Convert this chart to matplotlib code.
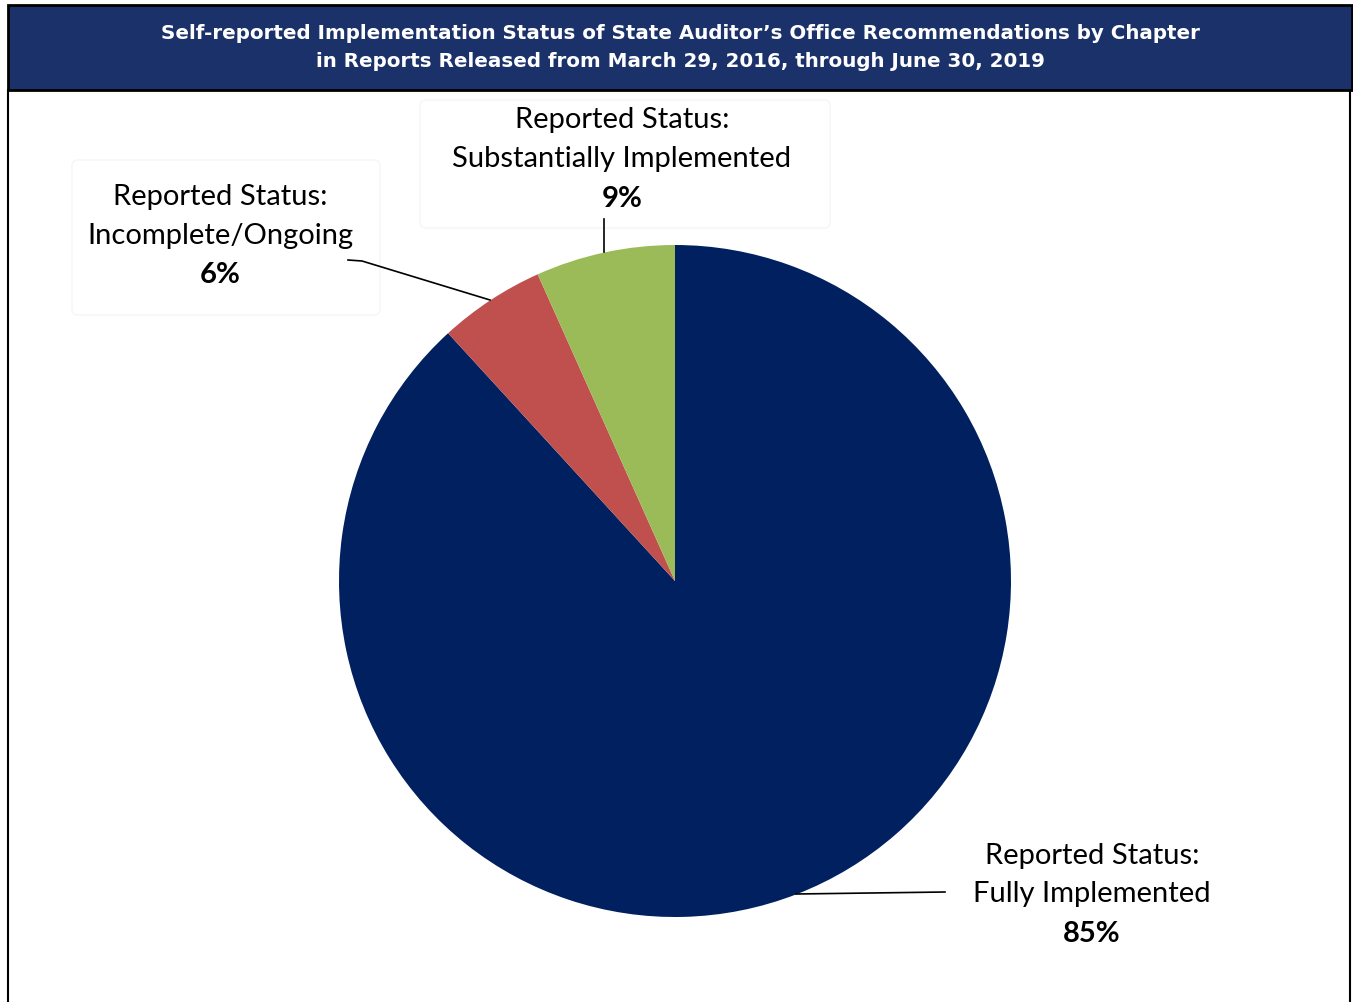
import matplotlib.pyplot as plt
from matplotlib.patches import Rectangle, FancyBboxPatch

statuses = ['Fully Implemented', 'Incomplete/Ongoing', 'Substantially Implemented']
shares = [88.2, 5.1, 6.7]
pct_labels = ['85%', '6%', '9%']
colors = ['#002060', '#c0504d', '#9bbb59']

title_lines = ["Self-reported Implementation Status of State Auditor\u2019s Office Recommendations by Chapter",
               "in Reports Released from March 29, 2016, through June 30, 2019"]

W, H = 1353, 1002
fig = plt.figure(figsize=(W / 100, H / 100), dpi=100)
ax = fig.add_axes([0, 0, 1, 1])


def py(y):
    # pixel row (from top) -> data y
    return H - y


# pie
ax.pie(shares, colors=colors, startangle=90, counterclock=False,
       center=(675, py(581)), radius=336, frame=True,
       wedgeprops=dict(linewidth=0))
ax.set_xlim(0, W)
ax.set_ylim(0, H)
ax.set_aspect('equal')
ax.axis('off')

# frame and title band
ax.plot([8, 8], [py(90), py(1002)], color='black', lw=1.5)
ax.plot([1350, 1350], [py(90), py(1002)], color='black', lw=1.5)
ax.add_patch(Rectangle((8, py(90)), 1344, 85, facecolor='#1b3169',
                       edgecolor='black', lw=2, zorder=3))
for txt, yy in zip(title_lines, [33, 61]):
    ax.text(680, py(yy), txt, color='white', fontsize=14.3, fontweight='bold',
            family='DejaVu Sans', ha='center', va='center', zorder=4)

# faint label boxes
for x0, y0, w, h in [(72, 160, 308, 155), (420, 100, 410, 128)]:
    ax.add_patch(FancyBboxPatch((x0, py(y0 + h)), w, h,
                                boxstyle='round,pad=0,rounding_size=6',
                                facecolor='white', edgecolor='#f7f7f7', lw=1.2, zorder=1))

label_pos = {
    'Fully Implemented': (1092, [856, 894, 934]),
    'Incomplete/Ongoing': (220, [197, 236, 275]),
    'Substantially Implemented': (622, [120, 159, 199]),
}
for name, pct in zip(statuses, pct_labels):
    x, ys = label_pos[name]
    ax.text(x, py(ys[0]), 'Reported Status:', fontsize=21, family='Lato',
            ha='center', va='center', zorder=5)
    ax.text(x, py(ys[1]), name, fontsize=21, family='Lato',
            ha='center', va='center', zorder=5)
    ax.text(x, py(ys[2]), pct, fontsize=21, family='Lato', fontweight='bold',
            ha='center', va='center', zorder=5)

# leader lines
ax.plot([604, 604], [py(219), py(252)], color='black', lw=1.2, zorder=5)
ax.plot([348, 362, 490], [py(260), py(261), py(300)], color='black', lw=1.2, zorder=5)
ax.plot([945, 796], [py(892), py(894)], color='black', lw=1.2, zorder=5)

fig.savefig('out.png', dpi=100)
